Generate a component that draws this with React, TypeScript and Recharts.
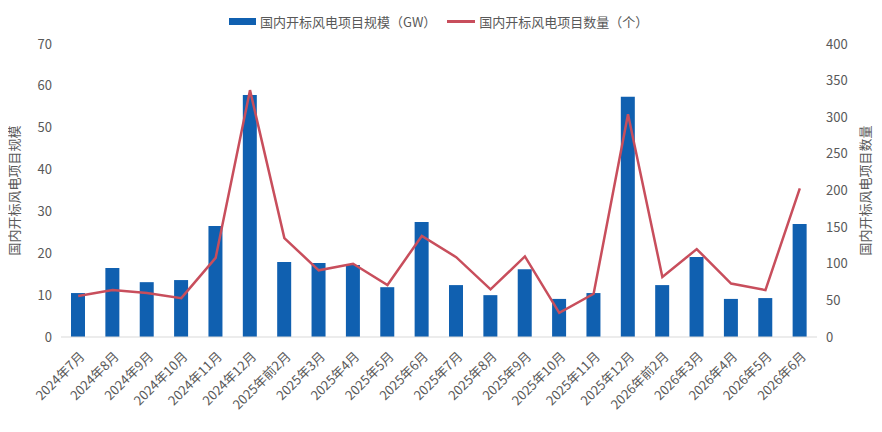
import React from 'react';
import { ComposedChart, Bar, Line, XAxis, YAxis } from 'recharts';

const categories = [
  '2024年7月', '2024年8月', '2024年9月', '2024年10月', '2024年11月', '2024年12月',
  '2025年前2月', '2025年3月', '2025年4月', '2025年5月', '2025年6月', '2025年7月',
  '2025年8月', '2025年9月', '2025年10月', '2025年11月', '2025年12月',
  '2026年前2月', '2026年3月', '2026年4月', '2026年5月', '2026年6月',
];
const capacityGW = [
  10.5, 16.5, 13.1, 13.6, 26.5, 57.8, 17.9, 17.7, 17.2, 11.9, 27.5, 12.4,
  10.0, 16.2, 9.1, 10.5, 57.4, 12.4, 19.1, 9.1, 9.3, 27.0,
];
const projectCount = [
  56, 64, 60, 53, 108, 337, 135, 91, 100, 71, 138, 109,
  65, 110, 33, 59, 304, 82, 120, 73, 64, 203,
];
const leftTicks = [0, 10, 20, 30, 40, 50, 60, 70];
const rightTicks = [0, 50, 100, 150, 200, 250, 300, 350, 400];

const barName = '国内开标风电项目规模（GW）';
const lineName = '国内开标风电项目数量（个）';
const leftLabel = '国内开标风电项目规模';
const rightLabel = '国内开标风电项目数量';

const data = categories.map((c, i) => ({ name: c, gw: capacityGW[i], count: projectCount[i] }));

const FONT = '"Noto Sans CJK SC", "Noto Sans", sans-serif';
const TEXT = '#595959';
const BAR = '#1060B0';
const LINE = '#C84E5C';

const XTick = (props: any) => {
  const { x, y, payload } = props;
  return (
    <g transform={`translate(${x + 4},${y + 9})`}>
      <text transform="rotate(-45)" textAnchor="end" dy="0.35em" fill={TEXT} fontSize={13} fontFamily={FONT}>
        {payload.value}
      </text>
    </g>
  );
};

const LeftLabel = (props: any) => {
  const vb = props.viewBox;
  const cx = 13;
  const cy = vb.y + vb.height / 2;
  return (
    <text x={cx} y={cy} transform={`rotate(-90, ${cx}, ${cy})`} textAnchor="middle" dominantBaseline="central" fill={TEXT} fontSize={13} fontFamily={FONT}>
      {leftLabel}
    </text>
  );
};

const RightLabel = (props: any) => {
  const vb = props.viewBox;
  const cx = 864;
  const cy = vb.y + vb.height / 2;
  return (
    <text x={cx} y={cy} transform={`rotate(-90, ${cx}, ${cy})`} textAnchor="middle" dominantBaseline="central" fill={TEXT} fontSize={13} fontFamily={FONT}>
      {rightLabel}
    </text>
  );
};

export default function App() {
  return (
    <div style={{ position: 'relative', width: 882, height: 416, marginLeft: -8 }}>
      <div
        style={{
          position: 'absolute', left: 229, top: 3, height: 20, display: 'flex', alignItems: 'center',
          fontFamily: FONT, fontSize: 13, color: TEXT, whiteSpace: 'nowrap', zIndex: 2,
        }}
      >
        <span style={{ display: 'inline-block', width: 27, height: 7, background: BAR, marginRight: 4 }} />
        <span>{barName}</span>
        <span style={{ display: 'inline-block', width: 28, height: 3, background: LINE, marginLeft: 11, marginRight: 4 }} />
        <span>{lineName}</span>
      </div>
      <ComposedChart
        width={882}
        height={416}
        data={data}
        margin={{ top: 36, right: 0, bottom: 0, left: 0 }}
      >
        <XAxis
          dataKey="name"
          interval={0}
          height={87}
          tick={<XTick />}
          tickLine={false}
          axisLine={{ stroke: '#D9D9D9', strokeWidth: 1 }}
        />
        <YAxis
          yAxisId="left"
          orientation="left"
          width={61}
          domain={[0, 70]}
          ticks={leftTicks}
          axisLine={false}
          tickLine={false}
          tickSize={0}
          tickMargin={9}
          tick={{ fill: TEXT, fontSize: 13, fontFamily: FONT }}
          label={<LeftLabel />}
        />
        <YAxis
          yAxisId="right"
          orientation="right"
          width={65}
          domain={[0, 400]}
          ticks={rightTicks}
          axisLine={false}
          tickLine={false}
          tickSize={0}
          tickMargin={9}
          tick={{ fill: TEXT, fontSize: 13, fontFamily: FONT }}
          label={<RightLabel />}
        />
        <Bar yAxisId="left" dataKey="gw" name={barName} fill={BAR} barSize={14} isAnimationActive={false} />
        <Line
          yAxisId="right"
          dataKey="count"
          name={lineName}
          stroke={LINE}
          strokeWidth={2.5}
          dot={false}
          activeDot={false}
          type="linear"
          isAnimationActive={false}
        />
      </ComposedChart>
    </div>
  );
}
